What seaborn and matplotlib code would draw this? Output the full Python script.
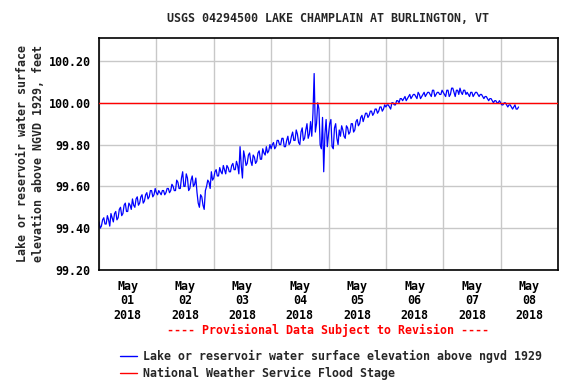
import numpy as np
import pandas as pd
import matplotlib
matplotlib.use("Agg")
import matplotlib.pyplot as plt
import matplotlib.dates as mdates
import seaborn as sns
from matplotlib.lines import Line2D

# ---- data (readings on the hour and at half past, feet above NGVD 1929) ----
start_time = "2018-05-01 00:00"
day1_h = [99.43, 99.41, 99.45, 99.42, 99.44, 99.47, 99.43, 99.48, 99.45, 99.50, 99.47, 99.52,
          99.48, 99.51, 99.54, 99.50, 99.55, 99.52, 99.56, 99.53, 99.57, 99.55, 99.58, 99.56]
day1_m = [99.40, 99.44, 99.42, 99.46, 99.41, 99.45, 99.47, 99.44, 99.49, 99.46, 99.51, 99.48,
          99.52, 99.49, 99.51, 99.54, 99.51, 99.55, 99.52, 99.56, 99.54, 99.58, 99.55, 99.59]
day2_h = [99.57, 99.58, 99.56, 99.58, 99.57, 99.59, 99.58, 99.60, 99.58, 99.62, 99.59, 99.67,
          99.60, 99.64, 99.59, 99.65, 99.61, 99.57, 99.50, 99.55, 99.49, 99.60, 99.62, 99.67]
day2_m = [99.56, 99.57, 99.58, 99.56, 99.59, 99.57, 99.61, 99.58, 99.63, 99.59, 99.64, 99.60,
          99.66, 99.58, 99.63, 99.60, 99.64, 99.52, 99.56, 99.51, 99.58, 99.63, 99.59, 99.63]
day3_h = [99.64, 99.68, 99.65, 99.67, 99.70, 99.66, 99.69, 99.67, 99.71, 99.68, 99.70, 99.79,
          99.64, 99.74, 99.71, 99.76, 99.70, 99.74, 99.72, 99.77, 99.73, 99.76, 99.79, 99.77]
day3_m = [99.67, 99.65, 99.69, 99.66, 99.68, 99.70, 99.67, 99.70, 99.68, 99.72, 99.66, 99.70,
          99.77, 99.70, 99.75, 99.72, 99.75, 99.71, 99.76, 99.73, 99.78, 99.75, 99.76, 99.80]
day4_h = [99.78, 99.81, 99.79, 99.82, 99.80, 99.83, 99.79, 99.84, 99.81, 99.86, 99.82, 99.85,
          99.80, 99.88, 99.83, 99.90, 99.85, 99.84, 100.14, 99.90, 99.97, 99.78, 99.67, 99.92]
day4_m = [99.80, 99.78, 99.82, 99.80, 99.83, 99.79, 99.82, 99.80, 99.84, 99.82, 99.87, 99.81,
          99.86, 99.82, 99.87, 99.83, 99.91, 99.95, 99.86, 100.00, 99.80, 99.93, 99.85, 99.79]
day5_h = [99.85, 99.92, 99.78, 99.90, 99.80, 99.84, 99.87, 99.83, 99.88, 99.86, 99.90, 99.87,
          99.92, 99.90, 99.94, 99.93, 99.95, 99.94, 99.96, 99.95, 99.97, 99.96, 99.98, 99.97]
day5_m = [99.90, 99.79, 99.88, 99.83, 99.87, 99.89, 99.84, 99.89, 99.85, 99.90, 99.86, 99.91,
          99.89, 99.93, 99.91, 99.95, 99.93, 99.96, 99.94, 99.97, 99.95, 99.98, 99.96, 99.99]
day6_h = [99.98, 99.99, 99.97, 100.00, 99.99, 100.01, 100.02, 100.01, 100.03, 100.02, 100.04, 100.03,
          100.04, 100.02, 100.04, 100.03, 100.05, 100.04, 100.05, 100.03, 100.06, 100.04, 100.05, 100.04]
day6_m = [99.99, 99.98, 100.00, 99.99, 100.01, 100.00, 100.02, 100.02, 100.01, 100.03, 100.02, 100.04,
          100.03, 100.05, 100.02, 100.04, 100.03, 100.05, 100.04, 100.06, 100.03, 100.05, 100.04, 100.06]
day7_h = [100.05, 100.03, 100.06, 100.04, 100.07, 100.03, 100.06, 100.07, 100.04, 100.06, 100.05, 100.03,
          100.05, 100.04, 100.05, 100.03, 100.04, 100.02, 100.03, 100.01, 100.02, 100.00, 100.01, 100.00]
day7_m = [100.04, 100.06, 100.03, 100.07, 100.05, 100.06, 100.04, 100.05, 100.06, 100.04, 100.04, 100.05,
          100.03, 100.05, 100.04, 100.04, 100.03, 100.03, 100.02, 100.02, 100.01, 100.01, 100.00, 100.01]
day8_h = [100.00, 99.99, 100.00, 99.98, 99.99, 99.97, 99.99, 99.97]
day8_m = [99.99, 100.00, 99.99, 99.99, 99.98, 99.98, 99.97, 99.98]
flood_stage = 100.00

title = "USGS 04294500 LAKE CHAMPLAIN AT BURLINGTON, VT"
ylabel = "Lake or reservoir water surface\nelevation above NGVD 1929, feet"
series_label = "Lake or reservoir water surface elevation above ngvd 1929"
flood_label = "National Weather Service Flood Stage"
provisional = "---- Provisional Data Subject to Revision ----"
y_ticks = [99.20, 99.40, 99.60, 99.80, 100.00, 100.20]

on_hour = day1_h + day2_h + day3_h + day4_h + day5_h + day6_h + day7_h + day8_h
half_past = day1_m + day2_m + day3_m + day4_m + day5_m + day6_m + day7_m + day8_m
values = []
for a, b in zip(on_hour, half_past):
    values += [a, b]
times = pd.date_range(start_time, periods=len(values), freq="30min")
df = pd.DataFrame({"time": times, "elev": values})

sns.set_theme(style="white")
plt.rcParams["font.family"] = ["DejaVu Sans Mono"]
plt.rcParams["font.weight"] = "bold"
FS = 8.4

fig = plt.figure(figsize=(5.76, 3.84), dpi=100)
ax = fig.add_axes([99/576, 1-270/384, 459/576, 232/384])

sns.lineplot(data=df, x="time", y="elev", ax=ax, color="#0000ff", lw=0.9,
             legend=False)
ax.axhline(flood_stage, color="#ff0000", lw=1.0, zorder=3)

x0 = pd.Timestamp("2018-05-01 00:00")
x1 = pd.Timestamp("2018-05-09 00:00")
ax.set_xlim(x0, x1)
ax.set_ylim(99.20, 100.31)

ax.xaxis.set_major_locator(mdates.HourLocator(byhour=[12]))
ax.xaxis.set_major_formatter(mdates.DateFormatter("%b\n%d\n%Y"))
ax.xaxis.set_minor_locator(mdates.HourLocator(byhour=[0]))
ax.set_yticks(y_ticks)
ax.set_yticklabels([f"{v:.2f}" for v in y_ticks])

ax.grid(False)
ax.grid(True, which="minor", axis="x", color="#c8c8c8", lw=1.0)
ax.grid(True, which="major", axis="y", color="#c8c8c8", lw=1.0)
ax.set_axisbelow(True)
ax.tick_params(axis="both", which="both", length=0, labelsize=FS, colors="black")
ax.tick_params(axis="x", pad=7)
ax.tick_params(axis="y", pad=6)
for lab in ax.get_xticklabels() + ax.get_yticklabels():
    lab.set_fontweight("bold")
for lab in ax.get_xticklabels():
    lab.set_linespacing(1.15)
for s in ax.spines.values():
    s.set_color("black")
    s.set_linewidth(1.2)

ax.set_xlabel("")
ax.set_ylabel(ylabel, fontsize=FS, fontweight="bold", labelpad=3, linespacing=1.25)

fig.text(328/576, 1-18/384, title, ha="center", va="center", fontsize=FS, fontweight="bold")
fig.text(328/576, 1-330/384, provisional, ha="center", va="center", fontsize=FS,
         fontweight="bold", color="#ff0000")

handles = [Line2D([], [], color="#0000ff", lw=1.0), Line2D([], [], color="#ff0000", lw=1.0)]
fig.legend(handles, [series_label, flood_label], loc="upper left",
           bbox_to_anchor=(120/576, 1-350/384), frameon=False,
           handlelength=1.45, handletextpad=0.5, labelspacing=0.3,
           borderpad=0, borderaxespad=0, prop={"weight": "bold", "size": FS})

fig.savefig("out.png", dpi=100)
